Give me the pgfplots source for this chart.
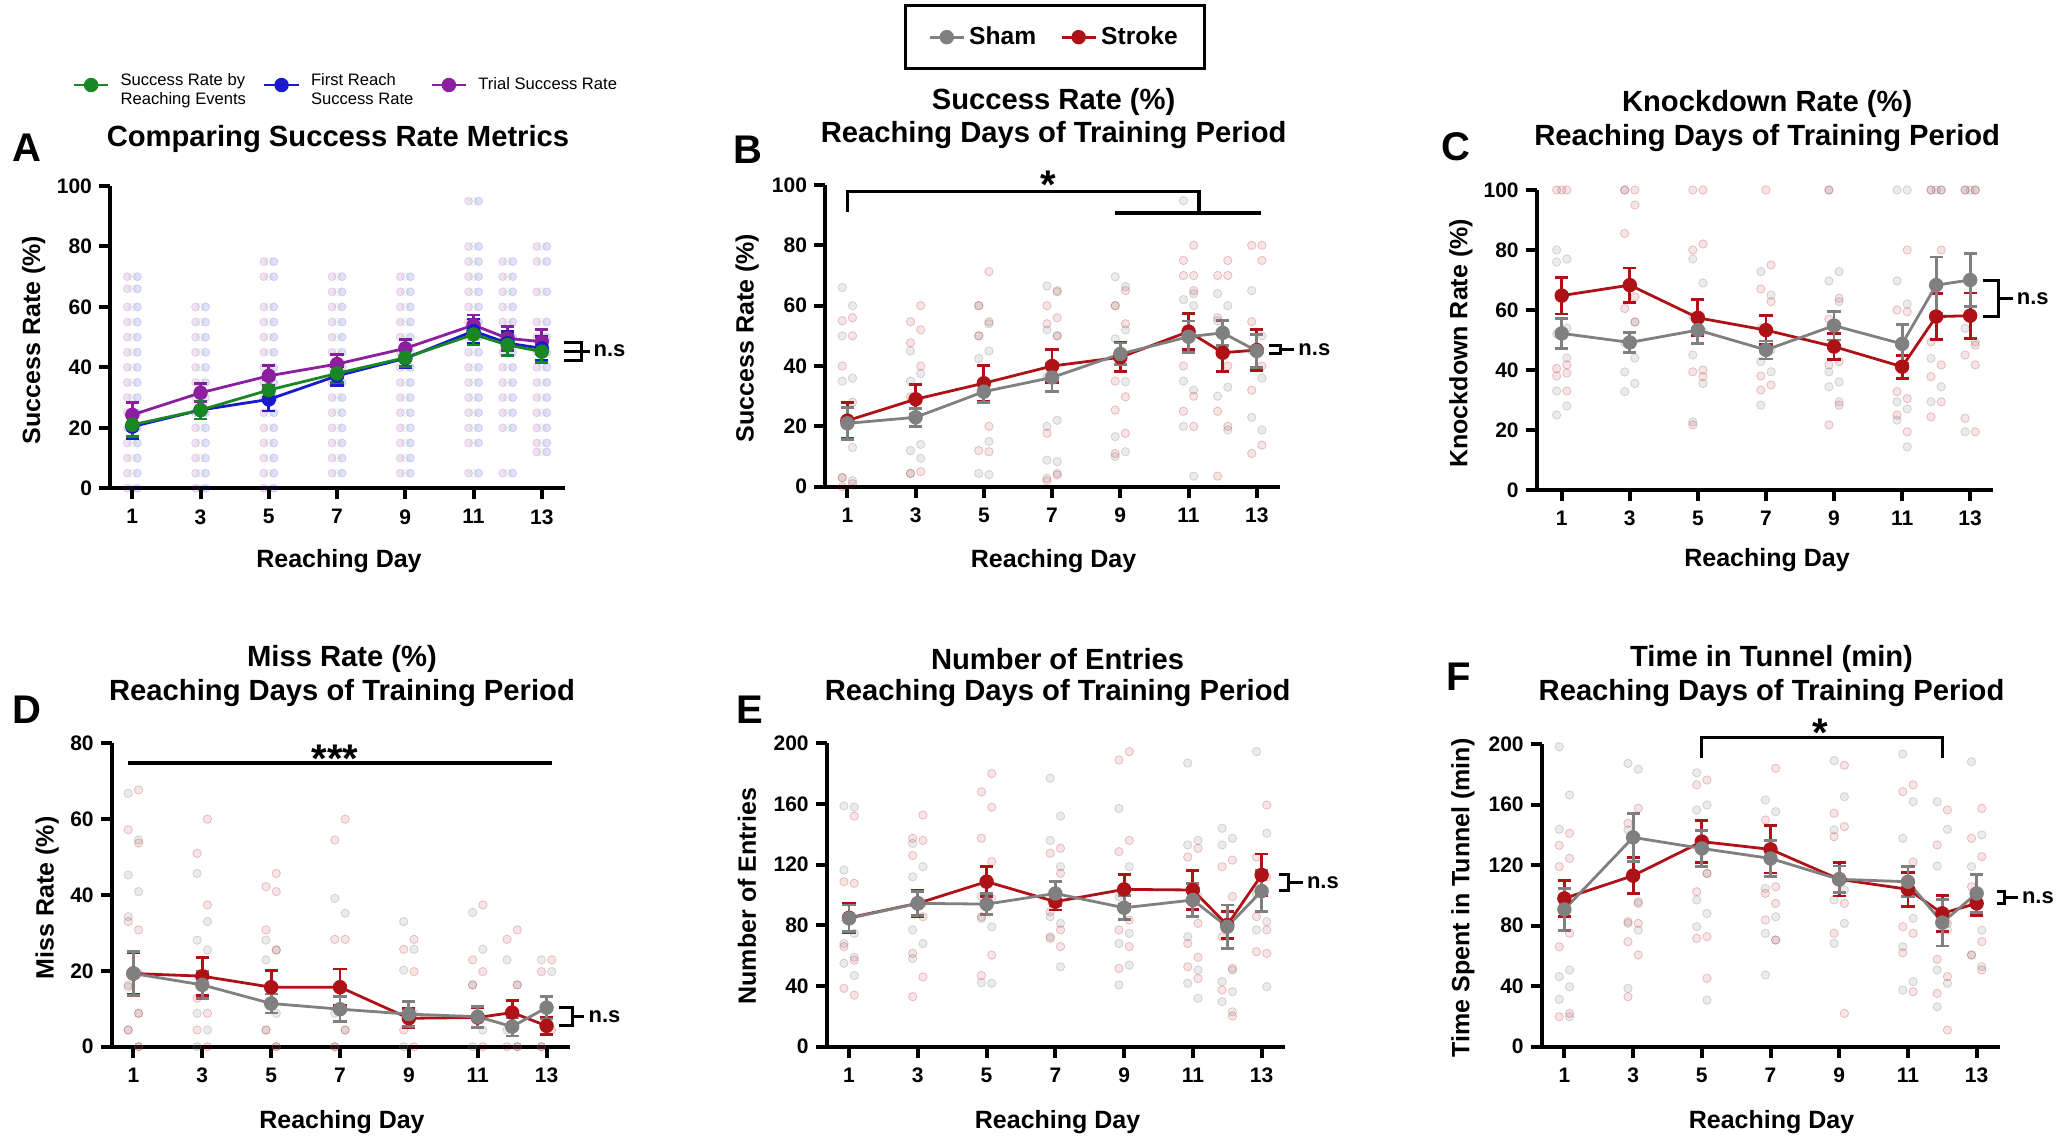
\documentclass[border=0pt]{standalone}
\usepackage{fontspec}
\setmainfont{Liberation Sans}
\usepackage{pgfplots}
\usepackage{pgfplotstable}
\pgfplotsset{compat=1.18}

\definecolor{shamc}{RGB}{128,128,128}
\definecolor{strokec}{RGB}{175,18,22}
\definecolor{cpurple}{RGB}{140,30,160}
\definecolor{cblue}{RGB}{25,25,205}
\definecolor{cgreen}{RGB}{25,135,35}

\pgfplotsset{
  panel/.style={
    scale only axis, clip=false, anchor=south west,
    axis lines=left, axis line style={-, line width=2pt, black},
    tick align=outside, major tick length=5.5pt,
    tick style={line width=2pt, black},
    xtick={1,3,...,13},
    ticklabel style={font=\fontsize{10.5}{12}\selectfont\bfseries, black},
    xticklabel style={yshift=-1.5pt},
    /pgf/number format/assume math mode=true,
  },
  mean/.style={line width=1.4pt, mark=*, mark size=2.9pt, mark options={solid},
    error bars/y dir=both, error bars/y explicit,
    error bars/error bar style={line width=1.4pt},
    error bars/error mark options={rotate=90, mark size=3.3pt, line width=1.4pt},
    forget plot},
  leg/.style={line width=1.4pt, mark=*, mark size=2.9pt},
  gdot/.style={only marks, mark=*, mark size=2.1pt, shamc, draw opacity=0.30, fill opacity=0.16, forget plot},
  rdot/.style={only marks, mark=*, mark size=2.1pt, strokec, draw opacity=0.24, fill opacity=0.11, forget plot},
  adot/.style={only marks, mark=*, mark size=2pt, draw opacity=0.16, fill opacity=0.13, forget plot},
  brk/.style={black, line width=1.8pt, forget plot, mark=none},
  nsb/.style={black, line width=1.5pt, forget plot, mark=none},
}
\tikzset{
  nsl/.style={font=\fontsize{11}{13}\selectfont\bfseries, anchor=west, inner sep=1pt},
  star/.style={font=\fontsize{20}{24}\selectfont\bfseries},
}

% individual trial success values, panel A
\pgfplotstableread[row sep=\\]{
d v\\
1 70\\ 1 66\\ 1 60\\ 1 55\\ 1 50\\ 1 45\\ 1 40\\ 1 35\\ 1 30\\ 1 25\\ 1 20\\ 1 15\\ 1 10\\ 1 5\\ 1 0\\
3 60\\ 3 55\\ 3 50\\ 3 45\\ 3 40\\ 3 35\\ 3 30\\ 3 25\\ 3 20\\ 3 15\\ 3 10\\ 3 5\\ 3 0\\
5 75\\ 5 70\\ 5 60\\ 5 55\\ 5 50\\ 5 45\\ 5 40\\ 5 35\\ 5 30\\ 5 25\\ 5 20\\ 5 15\\ 5 10\\ 5 5\\ 5 0\\
7 70\\ 7 65\\ 7 60\\ 7 55\\ 7 50\\ 7 45\\ 7 40\\ 7 35\\ 7 30\\ 7 25\\ 7 20\\ 7 15\\ 7 10\\ 7 5\\
9 70\\ 9 65\\ 9 60\\ 9 55\\ 9 50\\ 9 45\\ 9 40\\ 9 35\\ 9 30\\ 9 25\\ 9 20\\ 9 15\\ 9 10\\ 9 5\\
11 95\\ 11 80\\ 11 75\\ 11 70\\ 11 65\\ 11 60\\ 11 55\\ 11 50\\ 11 45\\ 11 40\\ 11 35\\ 11 30\\ 11 25\\ 11 20\\ 11 15\\ 11 5\\
12 75\\ 12 70\\ 12 65\\ 12 60\\ 12 55\\ 12 50\\ 12 45\\ 12 40\\ 12 35\\ 12 30\\ 12 25\\ 12 20\\ 12 5\\
13 80\\ 13 75\\ 13 65\\ 13 55\\ 13 50\\ 13 45\\ 13 40\\ 13 35\\ 13 30\\ 13 25\\ 13 20\\ 13 15\\ 13 12\\
}\Adots

\begin{document}
\begin{tikzpicture}
\useasboundingbox (0,0) rectangle (1030.5pt,-567.5pt);

% ---------------- A
\begin{axis}[panel, at={(55pt,-244.15pt)}, width=227.5pt, height=151.15pt,
  xmin=0.346, xmax=13.68, ymin=0, ymax=100, ytick={0,20,...,100},
  legend style={at={(-0.083,1.334)}, anchor=west, draw=none, fill=none, inner sep=0pt,
    font=\fontsize{8.3}{9.5}\selectfont,
    /tikz/every odd column/.append style={column sep=3.5pt},
    /tikz/every even column/.append style={column sep=6.5pt}},
  legend columns=3, legend cell align=left]
\addlegendimage{leg, cgreen}
\addlegendentry{\begin{tabular}{@{}l@{}}Success Rate by\\Reaching Events\end{tabular}}
\addlegendimage{leg, cblue}
\addlegendentry{\begin{tabular}{@{}l@{}}First Reach\\Success Rate\end{tabular}}
\addlegendimage{leg, cpurple}
\addlegendentry{Trial Success Rate}
\addplot[adot, cpurple, xshift=-2.5pt] table[x=d,y=v] {\Adots};
\addplot[adot, cblue, xshift=2.5pt] table[x=d,y=v] {\Adots};
\addplot[adot, cgreen, draw opacity=0.06, fill opacity=0.04] table[x=d,y=v] {\Adots};
\addplot[mean, cpurple] coordinates {(1,24.3)+-(0,4) (3,31.6)+-(0,3) (5,37.2)+-(0,3.3) (7,41.1)+-(0,3.2) (9,46.3)+-(0,2.8) (11,54)+-(0,3.3) (12,49.6)+-(0,4) (13,48.5)+-(0,4)};
\addplot[mean, cblue] coordinates {(1,20.4)+-(0,4) (3,25.9)+-(0,3) (5,29.4)+-(0,3.8) (7,37.2)+-(0,3.2) (9,43)+-(0,3) (11,52)+-(0,4) (12,48)+-(0,4) (13,46.3)+-(0,4)};
\addplot[mean, cgreen] coordinates {(1,21)+-(0,3.9) (3,25.9)+-(0,3) (5,32.5)+-(0,3.3) (7,38)+-(0,3) (9,43.2)+-(0,3) (11,50.9)+-(0,3.5) (12,47.4)+-(0,3.5) (13,45.2)+-(0,3.5)};
\addplot[nsb] coordinates {(13.65,48.3) (14.15,48.3) (14.15,42.4) (13.65,42.4)};
\addplot[nsb] coordinates {(13.65,45.4) (14.4,45.4)};
\node[nsl] at (axis cs:14.45,45.4) {n.s};
\end{axis}

% ---------------- B
\begin{axis}[panel, at={(412.5pt,-243.35pt)}, width=227.5pt, height=150.85pt,
  xmin=0.345, xmax=13.68, ymin=0, ymax=100, ytick={0,20,...,100},
  legend style={at={(0.5055,1.49)}, anchor=center, draw=black, line width=1.6pt,
    inner xsep=11.5pt, inner ysep=8.5pt,
    font=\fontsize{12.3}{14}\selectfont\bfseries,
    /tikz/every even column/.append style={column sep=10pt}},
  legend columns=2]
\addlegendimage{leg, shamc}\addlegendentry{Sham}
\addlegendimage{leg, strokec}\addlegendentry{Stroke}
\addplot[gdot] coordinates {(0.85,66)(1.15,60)(0.85,50)(1.15,36)(0.85,35)(1.15,13)(0.85,3)(1.15,2)
 (2.85,45)(3.15,37.5)(2.85,35)(3.15,14)(2.85,12)(3.15,9.4)(2.85,4.4)
 (4.85,60)(5.15,54)(4.85,50)(5.15,45)(4.85,42.5)(5.15,15)(4.85,4.4)(5.15,4)
 (6.85,66.5)(7.15,65)(6.85,52)(7.15,50)(6.85,36.5)(7.15,22)(6.85,20)(7.15,8.3)(6.85,8.8)(7.15,4.4)(6.85,2.8)
 (8.85,69.6)(9.15,66.3)(8.85,60)(9.15,52)(8.85,49)(9.15,34.8)(8.85,16.6)(9.15,11.6)(8.85,10)
 (10.85,94.8)(11.15,64)(10.85,62)(11.15,60)(10.85,35)(11.15,32)(10.85,20)(11.15,3.5)
 (11.85,64)(12.15,60)(11.85,55)(12.15,33)(11.85,30)(12.15,18.8)
 (12.85,65)(13.15,50)(12.85,45)(13.15,36)(12.85,23)(13.15,18.8)};
\addplot[rdot] coordinates {(1.15,56)(0.85,55)(1.15,50)(0.85,40)(1.15,28)(0.85,3)(1.15,1)(0.85,0)
 (3.15,60)(2.85,54.7)(3.15,52)(2.85,47.7)(3.15,40)(2.85,29.8)(3.15,5)(2.85,4.4)
 (5.15,71.3)(4.85,60)(5.15,54.7)(4.85,50)(5.15,20)(4.85,12)(5.15,11.6)
 (7.15,64.6)(6.85,60)(7.15,56)(6.85,54)(7.15,50)(6.85,17.7)(7.15,3.9)(6.85,2)
 (9.15,65)(8.85,60)(9.15,54)(8.85,35)(9.15,29.8)(8.85,25.4)(9.15,17.7)(8.85,11)
 (11.15,80)(10.85,75)(11.15,70)(10.85,70)(11.15,65)(10.85,40)(11.15,30)(10.85,25)(11.15,20)
 (12.15,75)(11.85,70)(12.15,70)(11.85,56)(12.15,40)(11.85,25)(12.15,20)(11.85,3.5)
 (13.15,80)(12.85,80)(13.15,75)(12.85,54.7)(13.15,40)(12.85,32)(13.15,13.8)(12.85,11)};
\addplot[mean, strokec] coordinates {(1,21.9)+-(0,6) (3,29)+-(0,5) (5,34.3)+-(0,6) (7,40)+-(0,5.5) (9,42.9)+-(0,4.8) (11,51.4)+-(0,5.9) (12,44.4)+-(0,6.1) (13,45.3)+-(0,6.8)};
\addplot[mean, shamc] coordinates {(1,21)+-(0,5.3) (3,23)+-(0,3) (5,31.5)+-(0,3.5) (7,36.2)+-(0,4.7) (9,44)+-(0,3.6) (11,49.7)+-(0,5.2) (12,51)+-(0,4.2) (13,45)+-(0,5.5)};
\addplot[brk] coordinates {(1,91.2) (1,97.8) (11.31,97.8) (11.31,90.8)};
\addplot[brk] coordinates {(8.85,90.8) (13.13,90.8)};
\node[star] at (axis cs:6.89,100) {*};
\addplot[nsb] coordinates {(13.35,46.8) (13.7,46.8) (13.7,44.2) (13.35,44.2)};
\addplot[nsb] coordinates {(13.7,45.5) (14.1,45.5)};
\node[nsl] at (axis cs:14.15,45.5) {n.s};
\end{axis}

% ---------------- C
\begin{axis}[panel, at={(768.35pt,-245pt)}, width=228.3pt, height=150pt,
  xmin=0.265, xmax=13.68, ymin=0, ymax=100, ytick={0,20,...,100}]
\addplot[gdot] coordinates {(0.85,80)(1.15,77)(0.85,76)(1.15,54)(0.85,52)(1.15,44)(0.85,33)(1.15,28)(0.85,25)
 (2.85,100)(3.15,56)(2.85,49)(3.15,44)(2.85,39.4)(3.15,35.5)(2.85,32.8)
 (4.85,77)(5.15,69)(4.85,58)(5.15,52.8)(4.85,45)(5.15,35.5)(4.85,22.7)
 (6.85,72.8)(7.15,65)(6.85,54)(7.15,46.7)(6.85,42.8)(7.15,39.4)(6.85,28.3)
 (8.85,100)(9.15,72.8)(8.85,69.7)(9.15,62.8)(8.85,39.4)(9.15,36)(8.85,34.4)(9.15,29.4)
 (10.85,100)(11.15,100)(10.85,69.7)(11.15,62)(10.85,29.4)(11.15,27)(10.85,23.3)(11.15,14.4)
 (11.85,100)(12.15,100)(12,100)(11.85,43.9)(12.15,34.4)(11.85,29.4)
 (12.85,100)(13.15,100)(13,100)(12.85,53.9)(13.15,49.4)(12.85,19.4)};
\addplot[rdot] coordinates {(1.15,100)(0.85,100)(1,100)(1.15,41.7)(0.85,40.5)(1.15,39)(0.85,38)(1.15,33)
 (3.15,100)(2.85,100)(3.15,95)(2.85,85.5)(3.15,64.4)(2.85,60.5)(3.15,56)
 (5.15,100)(4.85,100)(5.15,82)(4.85,80)(5.15,40)(4.85,39.4)(5.15,37.8)(4.85,21.7)
 (7,100)(7.15,75)(6.85,67)(7.15,62.8)(6.85,38)(7.15,35)(6.85,33.3)
 (8.85,100)(9.15,63.9)(8.85,57)(9.15,42.8)(8.85,41.7)(9.15,28.3)(8.85,21.7)
 (11.15,80)(10.85,60)(11.15,59.4)(10.85,32.8)(11.15,30.5)(10.85,25)(11.15,19.4)
 (12.15,100)(11.85,100)(12.15,80)(11.85,49.4)(12.15,41.7)(11.85,37.8)(12.15,29.4)(11.85,24.4)
 (13.15,100)(12.85,100)(13.15,48.3)(12.85,45)(13.15,41.7)(12.85,23.9)(13.15,19.4)};
\addplot[mean, strokec] coordinates {(1,64.8)+-(0,6.1) (3,68.3)+-(0,5.7) (5,57.4)+-(0,6) (7,53.3)+-(0,4.8) (9,47.8)+-(0,4.4) (11,41.1)+-(0,3.8) (12,57.8)+-(0,7.6) (13,58.1)+-(0,7.6)};
\addplot[mean, shamc] coordinates {(1,52.2)+-(0,5) (3,49.2)+-(0,3.3) (5,53.3)+-(0,4.4) (7,46.7)+-(0,3) (9,54.8)+-(0,4.8) (11,48.7)+-(0,6.5) (12,68.3)+-(0,9.4) (13,70)+-(0,8.9)};
\addplot[nsb] coordinates {(13.37,69.7) (13.83,69.7) (13.83,57.8) (13.37,57.8)};
\addplot[nsb] coordinates {(13.83,63.7) (14.25,63.7)};
\node[nsl] at (axis cs:14.3,63.7) {n.s};
\end{axis}

% ---------------- D
\begin{axis}[panel, at={(55.85pt,-523.35pt)}, width=229.15pt, height=151.7pt,
  xmin=0.37, xmax=13.68, ymin=0, ymax=80, ytick={0,20,...,80}]
\addplot[gdot] coordinates {(0.85,66.8)(1.15,54.5)(0.85,45.3)(1.15,40.9)(0.85,34.3)(1.15,19.3)(0.85,16.3)(1.15,8.8)(0.85,4.4)(1.15,0)
 (2.85,45.7)(3.15,33)(2.85,28.1)(3.15,25.5)(2.85,8.8)(3.15,4.4)(2.85,0)
 (4.85,28.1)(5.15,25.5)(4.85,22.9)(5.15,8.8)(4.85,4.4)(5.15,0)
 (6.85,39.1)(7.15,35.2)(6.85,8.8)(7.15,4.4)(6.85,0)
 (8.85,33)(9.15,25.7)(8.85,20.2)(9.15,8.8)(8.85,0)
 (10.85,35.4)(11.15,25.7)(10.85,16.3)(11.15,4.4)(10.85,0)
 (11.85,22.9)(12.15,16.3)(11.85,4.4)(12.15,0)
 (12.85,22.9)(13.15,19.8)(12.85,0)};
\addplot[rdot] coordinates {(1.15,67.7)(0.85,57.2)(1.15,53.7)(0.85,33)(1.15,30.8)(0.85,15.8)(1.15,8.8)(0.85,4.4)(1.15,0)
 (3.15,60)(2.85,51)(3.15,37.4)(2.85,12.8)(3.15,8.8)(2.85,4.4)(3.15,0)
 (5.15,45.7)(4.85,42.2)(5.15,40.9)(4.85,30.8)(5.15,25.5)(4.85,4.4)(5.15,0)
 (7.15,60)(6.85,54.5)(7.15,28.3)(6.85,28.3)(7.15,4.4)(6.85,0)
 (9.15,28.3)(8.85,25.7)(9.15,19.8)(8.85,4.4)(9.15,0)
 (11.15,37.4)(10.85,22.9)(11.15,19.8)(10.85,16.3)(11.15,0)
 (12.15,30.8)(11.85,28.3)(12.15,16.3)(11.85,0)(12.15,0)
 (13.15,22.9)(12.85,19.8)(13.15,4.4)(12.85,0)};
\addplot[mean, strokec] coordinates {(1,19.3)+-(0,5.5) (3,18.6)+-(0,5) (5,15.7)+-(0,4.4) (7,15.7)+-(0,4.8) (9,7.5)+-(0,2.5) (11,7.7)+-(0,2.5) (12,9)+-(0,3.2) (13,5.5)+-(0,2.3)};
\addplot[mean, shamc] coordinates {(1,19.3)+-(0,5.8) (3,16.3)+-(0,3.5) (5,11.4)+-(0,2.5) (7,9.9)+-(0,3.3) (9,8.6)+-(0,3.3) (11,7.9)+-(0,2.8) (12,5.3)+-(0,2.5) (13,10.3)+-(0,3)};
\addplot[brk] coordinates {(0.83,74.8) (13.15,74.8)};
\node[star] at (axis cs:6.86,76) {***};
\addplot[nsb] coordinates {(13.37,10.3) (13.76,10.3) (13.76,5.7) (13.37,5.7)};
\addplot[nsb] coordinates {(13.76,8) (14.1,8)};
\node[nsl] at (axis cs:14.15,8) {n.s};
\end{axis}

% ---------------- E
\begin{axis}[panel, at={(413.35pt,-523.35pt)}, width=229.15pt, height=151.7pt,
  xmin=0.35, xmax=13.68, ymin=0, ymax=200, ytick={0,40,...,200}]
\addplot[gdot] coordinates {(0.85,158.7)(1.15,158)(0.85,116.5)(1.15,74.7)(0.85,68)(1.15,59)(0.85,55)(1.15,47)
 (2.85,134)(3.15,118.7)(2.85,112)(3.15,94.5)(2.85,77)(3.15,68)(2.85,58.2)
 (4.85,99)(5.15,97.8)(4.85,84.6)(5.15,79)(4.85,42.2)(5.15,41.8)
 (6.85,177)(7.15,152)(6.85,136)(7.15,118.7)(6.85,85.7)(7.15,81.3)(6.85,72.5)(7.15,52.7)
 (8.85,157)(9.15,118.7)(8.85,99)(9.15,74.7)(8.85,68)(9.15,53.8)(8.85,40.7)
 (10.85,187)(11.15,136)(10.85,133)(11.15,99)(10.85,72.5)(11.15,50.5)(10.85,41.8)(11.15,31.9)
 (11.85,144)(12.15,137.4)(11.85,133)(12.15,50.5)(11.85,42.9)(12.15,36.3)(11.85,29.7)(12.15,23)
 (12.85,194.5)(13.15,140.7)(12.85,101)(13.15,82.4)(12.85,77)(13.15,39.6)};
\addplot[rdot] coordinates {(1.15,152)(0.85,108.8)(1.15,107.7)(0.85,66)(1.15,57)(0.85,38.5)(1.15,34)
 (3.15,152.7)(2.85,137.4)(3.15,136)(2.85,126)(3.15,85.7)(2.85,61.5)(3.15,46)(2.85,33)
 (5.15,180)(4.85,168)(5.15,157.8)(4.85,137.4)(5.15,122)(4.85,85.7)(5.15,60.4)(4.85,47)
 (7.15,130.8)(6.85,127.5)(7.15,114.3)(6.85,89)(7.15,77)(6.85,71.4)(7.15,66)
 (9.15,194.5)(8.85,189)(9.15,136)(8.85,128.6)(9.15,83.5)(8.85,77)(9.15,66)(8.85,51.6)
 (11.15,130.8)(10.85,125)(11.15,81.3)(10.85,68)(11.15,59)(10.85,52.7)(11.15,45)
 (12.15,123)(11.85,118.7)(12.15,99)(11.85,72.5)(12.15,51.6)(11.85,37.4)(12.15,20.2)
 (13.15,159.3)(12.85,125)(13.15,112)(12.85,85.7)(13.15,77)(12.85,62.6)(13.15,61.5)};
\addplot[mean, strokec] coordinates {(1,85)+-(0,9.5) (3,94.5)+-(0,8.6) (5,108.8)+-(0,9.9) (7,95.6)+-(0,5.5) (9,103.7)+-(0,10) (11,103.3)+-(0,12.7) (12,80.2)+-(0,8.8) (13,113.2)+-(0,13.8)};
\addplot[mean, shamc] coordinates {(1,84.6)+-(0,8.8) (3,94.5)+-(0,8) (5,94)+-(0,7) (7,101)+-(0,7.7) (9,91.6)+-(0,8) (11,96.7)+-(0,11) (12,79.1)+-(0,14.3) (13,102.6)+-(0,13.7)};
\addplot[nsb] coordinates {(13.5,113.8) (13.78,113.8) (13.78,102.9) (13.5,102.9)};
\addplot[nsb] coordinates {(13.78,108.3) (14.2,108.3)};
\node[nsl] at (axis cs:14.25,108.3) {n.s};
\end{axis}

% ---------------- F
\begin{axis}[panel, at={(770.85pt,-523.35pt)}, width=229.15pt, height=151.35pt,
  xmin=0.34, xmax=13.68, ymin=0, ymax=200, ytick={0,40,...,200}]
\addplot[gdot] coordinates {(0.85,198.2)(1.15,166.3)(0.85,143.6)(1.15,50.7)(0.85,46.3)(1.15,39.6)(0.85,31.3)(1.15,19.8)
 (2.85,187.2)(3.15,183.3)(2.85,143.2)(3.15,95.8)(2.85,81.5)(3.15,77)(2.85,38.5)
 (4.85,181)(5.15,159.7)(4.85,156.4)(5.15,114.5)(4.85,97)(5.15,88)(4.85,79.3)(5.15,30.8)
 (6.85,163)(7.15,155.3)(6.85,104.6)(7.15,85.9)(6.85,74.9)(7.15,70.5)(6.85,47.4)
 (8.85,189)(9.15,165.2)(8.85,143.2)(9.15,103.5)(8.85,97)(9.15,81.5)(8.85,68.3)
 (10.85,193.4)(11.15,161.9)(10.85,137.7)(11.15,84.8)(10.85,66)(11.15,43)(10.85,37.4)
 (11.85,161.9)(12.15,143.6)(11.85,119.4)(12.15,77)(11.85,50.7)(12.15,41.9)(11.85,26.4)
 (12.85,188.3)(13.15,139.9)(12.85,119)(13.15,77)(12.85,60.6)(13.15,52.9)};
\addplot[rdot] coordinates {(1.15,141)(0.85,133)(1.15,124.4)(0.85,119)(1.15,75)(0.85,66)(1.15,22)(0.85,19.8)
 (3.15,157.5)(2.85,147.6)(3.15,94.7)(2.85,82.6)(3.15,81.5)(2.85,69.4)(3.15,60.6)(2.85,33)
 (5.15,176.2)(4.85,173)(5.15,114.5)(4.85,102.4)(5.15,72.7)(4.85,71.6)(5.15,45.2)
 (7.15,184)(6.85,149.8)(7.15,105.7)(6.85,101.3)(7.15,94.7)(6.85,83.7)(7.15,70.5)
 (9.15,186)(8.85,154.2)(9.15,145.4)(8.85,138.8)(9.15,94.7)(8.85,74.9)(9.15,22)
 (11.15,173)(10.85,168.5)(11.15,122)(10.85,79.3)(11.15,74.9)(10.85,62.1)(11.15,36.3)
 (12.15,156.4)(11.85,133.3)(12.15,81.5)(11.85,57.7)(12.15,46.3)(11.85,35.2)(12.15,11)
 (13.15,157.5)(12.85,137.7)(13.15,125.6)(12.85,105.7)(13.15,69.4)(12.85,60.6)(13.15,50.7)};
\addplot[mean, strokec] coordinates {(1,98)+-(0,12) (3,113)+-(0,12) (5,135.5)+-(0,13.9) (7,130.4)+-(0,15.6) (9,110.6)+-(0,11) (11,104)+-(0,11.3) (12,88.1)+-(0,12) (13,94.7)+-(0,8)};
\addplot[mean, shamc] coordinates {(1,90.7)+-(0,13.8) (3,138.3)+-(0,16) (5,131)+-(0,12) (7,124.4)+-(0,12) (9,110.6)+-(0,8.8) (11,109)+-(0,10) (12,82)+-(0,15.4) (13,101.3)+-(0,12.6)};
\addplot[brk] coordinates {(4.99,190.5) (4.99,204.4) (12.0,204.4) (12.0,190.5)};
\node[star] at (axis cs:8.45,207.5) {*};
\addplot[nsb] coordinates {(13.6,102.4) (13.8,102.4) (13.8,94.7) (13.6,94.7)};
\addplot[nsb] coordinates {(13.8,98.5) (14.2,98.5)};
\node[nsl] at (axis cs:14.25,98.5) {n.s};
\end{axis}

% ---------------- titles, panel letters, axis labels
\begin{scope}[x=0.5pt, y=-0.5pt]
\tikzset{ttl/.style={font=\fontsize{14.6}{16}\selectfont\bfseries},
  lbl/.style={font=\fontsize{12.5}{15}\selectfont\bfseries},
  let/.style={font=\fontsize{20}{24}\selectfont\bfseries}}
\node[let] at (27,148) {A};
\node[let] at (748,149.8) {B};
\node[let] at (1456.4,146.7) {C};
\node[let] at (27,709.4) {D};
\node[let] at (750,709.4) {E};
\node[let] at (1458.6,676.8) {F};

\node[ttl] at (338,139) {Comparing Success Rate Metrics};
\node[ttl] at (1053.6,102.3) {Success Rate (\%)};
\node[ttl] at (1053.6,135.2) {Reaching Days of Training Period};
\node[ttl] at (1767.2,104) {Knockdown Rate (\%)};
\node[ttl] at (1767.2,138) {Reaching Days of Training Period};
\node[ttl] at (342,658.7) {Miss Rate (\%)};
\node[ttl] at (342,693.1) {Reaching Days of Training Period};
\node[ttl] at (1057.6,658.7) {Number of Entries};
\node[ttl] at (1057.6,693.1) {Reaching Days of Training Period};
\node[ttl] at (1771.5,658.7) {Time in Tunnel (min)};
\node[ttl] at (1771.5,693.1) {Reaching Days of Training Period};

\node[lbl] at (339,561) {Reaching Day};
\node[lbl] at (1053.6,561) {Reaching Day};
\node[lbl] at (1767,560) {Reaching Day};
\node[lbl] at (342,1122.4) {Reaching Day};
\node[lbl] at (1057.6,1122.4) {Reaching Day};
\node[lbl] at (1771.5,1122.4) {Reaching Day};

\node[lbl, rotate=90] at (33.7,340) {Success Rate (\%)};
\node[lbl, rotate=90] at (747.1,338) {Success Rate (\%)};
\node[lbl, rotate=90] at (1460.8,343.3) {Knockdown Rate (\%)};
\node[lbl, rotate=90] at (47.1,897.8) {Miss Rate (\%)};
\node[lbl, rotate=90] at (747,896) {Number of Entries};
\node[lbl, rotate=90] at (1462.9,897.8) {Time Spent in Tunnel (min)};
\end{scope}
\end{tikzpicture}
\end{document}
